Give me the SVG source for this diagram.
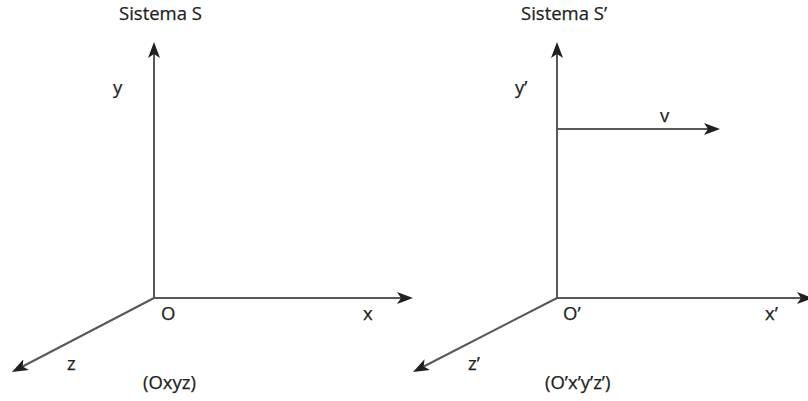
<svg xmlns="http://www.w3.org/2000/svg" width="808" height="401" viewBox="0 0 808 401">
<style>
.ax{stroke:#58585a;stroke-width:2;fill:none;marker-end:url(#ah)}
text{font-family:"Open Sans","Liberation Sans",Arial,sans-serif;font-size:18.5px;fill:#231f20;stroke:#231f20;stroke-width:0.25}
</style>
<defs>
<marker id="ah" viewBox="0 0 16 12" refX="4" refY="6" markerWidth="16" markerHeight="12" markerUnits="userSpaceOnUse" orient="auto">
<path d="M0,0 L16,6 L0,12 L4,6 Z" fill="#231f20"/>
</marker>
</defs>
<rect width="808" height="401" fill="#fff"/>
<g id="connectors">
<line class="ax" x1="154" y1="298" x2="154" y2="54"/>
<line class="ax" x1="154" y1="298" x2="401" y2="298"/>
<line class="ax" x1="154" y1="298" x2="22.6" y2="366.5"/>
<line class="ax" x1="557" y1="298" x2="557" y2="54"/>
<line class="ax" x1="557" y1="298" x2="801" y2="298"/>
<line class="ax" x1="557" y1="298" x2="423.7" y2="366.5"/>
<line class="ax" x1="557" y1="129" x2="708" y2="129"/>
</g>
<g id="systemS">
<text x="119" y="20">Sistema S</text>
<text x="113" y="94">y</text>
<text x="161" y="320">O</text>
<text x="363" y="320">x</text>
<text x="67" y="370">z</text>
<text x="143" y="389">(Oxyz)</text>
</g>
<g id="systemS2">
<text x="521" y="20">Sistema S’</text>
<text x="515" y="94">y’</text>
<text x="660" y="122">v</text>
<text x="563" y="320">O’</text>
<text x="765" y="320">x’</text>
<text x="468" y="370">z’</text>
<text x="545" y="389">(O’x’y’z’)</text>
</g>
</svg>
